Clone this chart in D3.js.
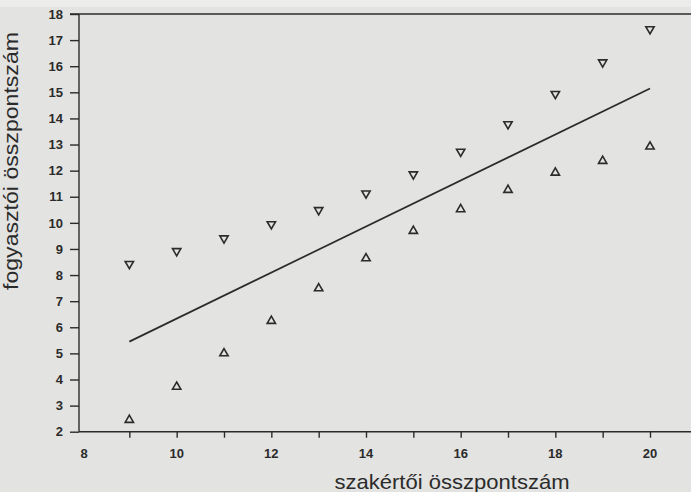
<!DOCTYPE html>
<html>
<head>
<meta charset="utf-8">
<script src="https://cdn.jsdelivr.net/npm/d3@7"></script>
<style>
  body { margin: 0; background: #e3e3e1; }
  svg { display: block; }
  .axis path, .axis line { stroke: #2b2b2b; stroke-width: 1.4; }
  .axis text { font-family: "Liberation Sans", Arial, sans-serif; font-weight: bold; font-size: 13px; fill: #2b2b2b; }
</style>
</head>
<body>
<div id="chart"></div>
<script>
// szakértői pontszám (x) és fogyasztói pontszám (y)
let xValues = [9, 10, 11, 12, 13, 14, 15, 16, 17, 18, 19, 20];
let upperValues = [8.43, 8.92, 9.41, 9.95, 10.49, 11.13, 11.86, 12.73, 13.78, 14.94, 16.15, 17.42];
let lowerValues = [2.45, 3.72, 5.0, 6.24, 7.49, 8.64, 9.69, 10.52, 11.26, 11.92, 12.37, 12.92];
let fitX = [9, 20];
let fitY = [5.45, 15.15];
let xTicks = [9, 10, 11, 12, 13, 14, 15, 16, 17, 18, 19, 20];
let xLabels = [8, 10, 12, 14, 16, 18, 20];
let yTicks = [2, 3, 4, 5, 6, 7, 8, 9, 10, 11, 12, 13, 14, 15, 16, 17, 18];

let width = 691,
  height = 492;

let x = d3.scaleLinear().domain([8, 20]).range([82, 650]);
let y = d3.scaleLinear().domain([2, 18]).range([431.7, 14]);

const svg = d3.select("#chart")
  .append("svg")
  .attr("width", width)
  .attr("height", height);

// lighter strip at the very top of the photo
svg.append("rect")
  .attr("width", width)
  .attr("height", 7)
  .style("fill", "#ececea");

// top frame line
svg.append("line")
  .attr("x1", 70)
  .attr("x2", width)
  .attr("y1", y(18))
  .attr("y2", y(18))
  .style("stroke", "#2b2b2b")
  .style("stroke-width", 1.4);

// x axis: ticks at every integer, labels at even values
const xAxisG = svg.append("g")
  .attr("class", "axis")
  .attr("transform", "translate(0," + y(2) + ")");

xAxisG.append("line")
  .attr("x1", 79)
  .attr("x2", width)
  .style("stroke", "#2b2b2b")
  .style("stroke-width", 1.4);

xAxisG.call(d3.axisBottom(x).tickValues(xTicks).tickSize(6).tickFormat(""))
  .select(".domain").remove();

xAxisG.selectAll(".lbl")
  .data(xLabels)
  .enter()
  .append("text")
  .attr("class", "lbl")
  .attr("x", (d) => x(d) + (d == 8 ? 2 : 0))
  .attr("y", 26)
  .attr("text-anchor", "middle")
  .text((d) => d);

// y axis
const yAxisG = svg.append("g")
  .attr("class", "axis")
  .attr("transform", "translate(79,0)")
  .call(d3.axisLeft(y).tickValues(yTicks).tickSize(9).tickPadding(7).tickFormat(d3.format("d")));
yAxisG.select(".domain").attr("d", "M0," + y(18) + "V" + y(2));

// regression line
svg.append("line")
  .attr("x1", x(fitX[0]))
  .attr("y1", y(fitY[0]))
  .attr("x2", x(fitX[1]))
  .attr("y2", y(fitY[1]))
  .style("stroke", "#2b2b2b")
  .style("stroke-width", 1.7);

const tri = d3.symbol().type(d3.symbolTriangle).size(30);

svg.selectAll(".upper")
  .data(xValues)
  .enter()
  .append("path")
  .attr("class", "upper")
  .attr("d", tri)
  .attr("transform", (d, i) => "translate(" + x(d) + "," + y(upperValues[i]) + ") rotate(180)")
  .style("fill", "none")
  .style("stroke", "#2b2b2b")
  .style("stroke-width", 1.6);

svg.selectAll(".lower")
  .data(xValues)
  .enter()
  .append("path")
  .attr("class", "lower")
  .attr("d", tri)
  .attr("transform", (d, i) => "translate(" + x(d) + "," + y(lowerValues[i]) + ")")
  .style("fill", "none")
  .style("stroke", "#2b2b2b")
  .style("stroke-width", 1.6);

// axis titles
svg.append("text")
  .text("szakértői összpontszám")
  .attr("x", 452)
  .attr("y", 489)
  .attr("text-anchor", "middle")
  .attr("textLength", 235)
  .attr("lengthAdjust", "spacingAndGlyphs")
  .style("font-family", "'Liberation Sans', Arial, sans-serif")
  .style("font-size", "21px")
  .style("fill", "#2b2b2b");

svg.append("text")
  .text("fogyasztói összpontszám")
  .attr("transform", "translate(18,161) rotate(-90)")
  .attr("text-anchor", "middle")
  .attr("textLength", 258)
  .attr("lengthAdjust", "spacingAndGlyphs")
  .style("font-family", "'Liberation Sans', Arial, sans-serif")
  .style("font-size", "21px")
  .style("fill", "#2b2b2b");
</script>
</body>
</html>
